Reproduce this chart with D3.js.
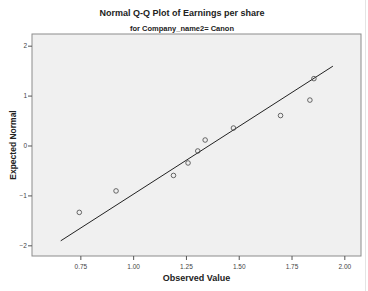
<!DOCTYPE html>
<html>
<head>
<meta charset="utf-8">
<script src="https://cdn.jsdelivr.net/npm/d3@7"></script>
<style>
  body { margin: 0; background: #fff; }
  text { font-family: "Liberation Sans", Arial, sans-serif; }
</style>
</head>
<body>
<svg id="chart" width="368" height="291"></svg>
<script>
// observed earnings per share vs expected normal value
const observed = [0.745, 0.919, 1.191, 1.26, 1.306, 1.341, 1.475, 1.698, 1.837, 1.856];
const expected = [-1.34, -0.91, -0.6, -0.35, -0.11, 0.11, 0.35, 0.6, 0.91, 1.34];

// reference line end points
const lineX = [0.657, 1.946];
const lineY = [-1.91, 1.59];

const xTicks = [0.75, 1.0, 1.25, 1.5, 1.75, 2.0];
const yTicks = [-2, -1, 0, 1, 2];

const title = 'Normal Q-Q Plot of Earnings per share';
const subtitle = 'for Company_name2= Canon';

const margin = { top: 34, right: 7, bottom: 35, left: 32 };
const width = 368 - margin.left - margin.right;
const height = 291 - margin.top - margin.bottom;

const svg = d3.select('#chart');

// outer frame edge on the right
svg.append('line')
  .attr('x1', 365.5).attr('x2', 365.5)
  .attr('y1', 0).attr('y2', 291)
  .style('stroke', '#e4e4e4');

const xScale = d3.scaleLinear().domain([0.521, 2.079]).range([0, width]);
const yScale = d3.scaleLinear().domain([-2.214, 2.234]).range([height, 0]);

const g = svg.append('g').attr('transform', `translate(${margin.left}, ${margin.top})`);

g.append('rect')
  .attr('width', width)
  .attr('height', height)
  .style('fill', '#f0f0f0')
  .style('stroke', '#8c8c8c')
  .style('stroke-width', 1);

const xAxis = g.append('g')
  .attr('transform', `translate(0, ${height})`)
  .call(d3.axisBottom(xScale).tickValues(xTicks).tickFormat(d3.format('.2f')).tickSize(4).tickSizeOuter(0));

const yAxis = g.append('g')
  .call(d3.axisLeft(yScale).tickValues(yTicks).tickFormat(d3.format('d')).tickSize(4).tickSizeOuter(0));

[xAxis, yAxis].forEach(a => {
  a.select('.domain').remove();
  a.selectAll('line').style('stroke', '#555');
  a.selectAll('text')
    .style('font-size', '6.5px')
    .style('fill', '#444')
    .style('font-family', '"Liberation Sans", Arial, sans-serif');
});
xAxis.selectAll('text').attr('dy', '0.85em');
yAxis.selectAll('text').attr('x', -5);

const line = d3.line()
  .x(d => xScale(d[0]))
  .y(d => yScale(d[1]));

g.append('path')
  .attr('d', line(d3.zip(lineX, lineY)))
  .style('fill', 'none')
  .style('stroke', '#222')
  .style('stroke-width', 1);

g.selectAll('.point')
  .data(d3.zip(observed, expected))
  .enter()
  .append('circle')
  .attr('class', 'point')
  .attr('cx', d => xScale(d[0]))
  .attr('cy', d => yScale(d[1]))
  .attr('r', 2.3)
  .style('fill', 'none')
  .style('stroke', '#444')
  .style('stroke-width', 0.8);

svg.append('text')
  .attr('x', 182).attr('y', 16)
  .attr('text-anchor', 'middle')
  .style('font-size', '9px')
  .style('font-weight', 'bold')
  .style('fill', '#222')
  .text(title);

svg.append('text')
  .attr('x', 182).attr('y', 31)
  .attr('text-anchor', 'middle')
  .style('font-size', '7.5px')
  .style('font-weight', 'bold')
  .style('fill', '#222')
  .text(subtitle);

svg.append('text')
  .attr('x', margin.left + width / 2).attr('y', 281)
  .attr('text-anchor', 'middle')
  .style('font-size', '9px')
  .style('font-weight', 'bold')
  .style('fill', '#222')
  .text('Observed Value');

svg.append('text')
  .attr('transform', `translate(16, ${margin.top + height / 2}) rotate(-90)`)
  .attr('text-anchor', 'middle')
  .style('font-size', '8.5px')
  .style('font-weight', 'bold')
  .style('fill', '#222')
  .text('Expected Normal');
</script>
</body>
</html>
